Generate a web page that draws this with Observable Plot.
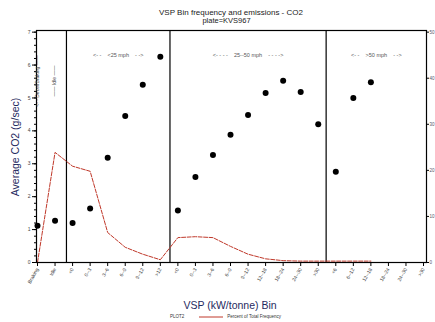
<!DOCTYPE html>
<html><head><meta charset="utf-8">
<script src="https://cdn.jsdelivr.net/npm/d3@7"></script>
<script src="https://cdn.jsdelivr.net/npm/@observablehq/plot@0.6"></script>
<style>
body{margin:0;background:#fff;font-family:"Liberation Sans",Arial,sans-serif;}
#wrap{position:relative;width:435px;height:322px;overflow:hidden;background:#fff}
#wrap svg text{white-space:pre}
.abs{position:absolute;white-space:nowrap;line-height:1;}
</style></head><body>
<div id="wrap">
  <div class="abs" style="left:0;width:462px;top:9px;text-align:center;font-size:8px;color:#222">VSP Bin frequency and emissions - CO2</div>
  <div class="abs" style="left:0;width:453px;top:17px;text-align:center;font-size:7.5px;color:#222">plate=KVS967</div>
  <div class="abs" style="left:15px;top:147px;font-size:10.5px;color:#1f2a60;transform:translate(-50%,-50%) rotate(-90deg)">Average CO2 (g/sec)</div>
  <div class="abs" style="left:0;width:460px;top:300px;text-align:center;font-size:10.5px;color:#1f2a60">VSP (kW/tonne) Bin</div>
  <div class="abs" style="left:170px;top:315px;font-size:4.5px;color:#333;display:flex;align-items:center">
    <span>PLOT2</span>
    <svg width="26" height="4" style="margin-left:14px"><line x1="1" x2="25" y1="2" y2="2" stroke="#c0392b" stroke-width="1"/></svg>
    <span style="margin-left:3px">Percent of Total Frequency</span>
  </div>
</div>
<script>
const bins = ["Braking","Idle","<0","0--3","3--6","6--9","9--12",">12",
  "<0","0--3","3--6","6--9","9--12","12--18","18--24","24--30",">30",
  "<6","6--12","12--18","18--24","24--30",">30"];
const co2 = [1.12,1.27,1.2,1.64,3.18,4.45,5.4,6.25,
  1.58,2.6,3.27,3.88,4.48,5.15,5.52,5.18,4.2,
  2.76,5.0,5.48,null,null,null];
const pct = [0,23.9,20.9,19.8,6.5,3.3,1.8,0.6,
  5.4,5.6,5.4,3.5,1.8,0.8,0.4,0.3,0.3,
  0.3,0.3,0.3,null,null,null];
const boundaries = [1.65, 7.55, 16.45];
const groups = [
  {label:"<- -    <25 mph    - ->", from:1.65, to:7.55},
  {label:"<- - - -    25--50 mph    - - - ->", from:7.55, to:16.45},
  {label:"<- -    >50 mph    - ->", from:16.45, to:22.17}
];
const sideNotes = [
  {label:"<- - Decel/Braking ——", i:0, y:5.5, dx:4},
  {label:"—— Idle ——", i:1, y:5.5, dx:0}
];
const yTicks = [0,1,2,3,4,5,6,7];
const pctTicks = [0,10,20,30,40,50];

const k = 7/50;
const idx = d3.range(bins.length);
const data = idx.map(i => ({i, bin:bins[i], co2:co2[i], pct:pct[i]}));
const minor = d3.range(0, 7.001, 0.2).map(v => +v.toFixed(2));

const chart = Plot.plot({
  width:435, height:322,
  marginLeft:36, marginRight:9, marginTop:30, marginBottom:60,
  style:{fontFamily:"Liberation Sans, Arial, sans-serif", background:"transparent", color:"#000"},
  x:{domain:[-0.057, 22.17]},
  y:{domain:[0, 7.05]},
  marks:[
    Plot.ruleX(boundaries, {stroke:"#000", strokeWidth:1.2}),
    Plot.line(data.filter(d => d.pct != null), {x:"i", y:d => d.pct*k, stroke:"#c0392b", strokeWidth:1, strokeDasharray:"4,1.5"}),
    Plot.dot(data.filter(d => d.co2 != null), {x:"i", y:"co2", r:3, fill:"#000", stroke:"none"}),
    Plot.frame({stroke:"#000", strokeWidth:1.2}),
    Plot.axisX(idx, {tickFormat:i => bins[i], tickRotate:-60, fontSize:5, tickSize:4, tickPadding:2, label:null, fill:"#444", stroke:"#000"}),
    Plot.axisY(minor, {tickSize:2, tickFormat:() => "", label:null, stroke:"#000"}),
    Plot.axisY(yTicks, {tickSize:4, tickFormat:d => String(d), fontSize:5, tickPadding:2, label:null, fill:"#444", stroke:"#000"}),
    Plot.axisY(pctTicks.map(p => p*k), {anchor:"right", tickSize:2, tickFormat:d => String(Math.round(d/k)), fontSize:4.5, tickPadding:1, label:null, fill:"#556", stroke:"#000"}),
    Plot.text(groups, {x:d => (d.from + d.to)/2, frameAnchor:"top", dy:23, text:"label", fontSize:5.5, fill:"#555"}),
    Plot.text(sideNotes, {x:"i", y:"y", dx:"dx", text:"label", rotate:-90, fontSize:5, fill:"#444"})
  ]
});
chart.style.position = "absolute";
chart.style.left = "0";
chart.style.top = "0";
document.getElementById("wrap").prepend(chart);
</script>
</body></html>
